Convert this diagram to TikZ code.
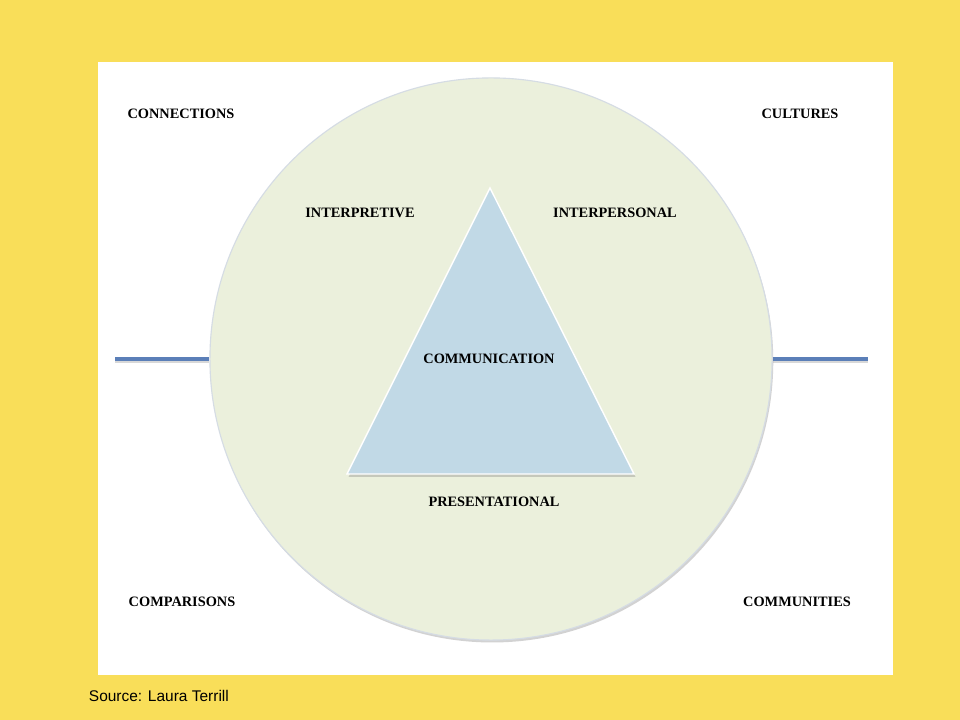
\documentclass[tikz,border=0pt]{standalone}
\usepackage{fontspec}
\setmainfont{Liberation Serif}
\setsansfont{Liberation Sans}
\usepackage{tikz}
\usetikzlibrary{shadows}

\definecolor{slideyellow}{HTML}{F9DE59}
\definecolor{ringgreen}{HTML}{EBF0DC}
\definecolor{ringedge}{HTML}{D5DCE4}
\definecolor{trianglue}{HTML}{C1D9E6}
\definecolor{barblue}{HTML}{5B7FB8}

\begin{document}
\begin{tikzpicture}[x=0.025cm, y=-0.025cm,
        word/.style = {font=\bfseries\fontsize{10.2}{12}\selectfont, text=black},
        bar/.style = {draw=barblue, line width=2.2pt}]
        \useasboundingbox (0,0) rectangle (960,720);
        \fill[slideyellow] (0,0) rectangle (960,720);
        \fill[white] (98,62) rectangle (893,675);

        \node[circle, minimum size=14.05cm, fill=ringgreen, draw=ringedge, line width=0.8pt,
              drop shadow={shadow xshift=0.3mm, shadow yshift=-0.6mm, opacity=0.35}](ring) at (491,359){};

        \coordinate (apex) at (490,188);
        \coordinate (baseL) at (347,474);
        \coordinate (baseR) at (634,474);
        \fill[gray, opacity=0.35] ([shift={(1.5,3)}]apex) -- ([shift={(1.5,3)}]baseR) -- ([shift={(1.5,3)}]baseL) -- cycle;
        \draw[white, line width=1pt, fill=trianglue] (apex) -- (baseR) -- (baseL) -- cycle;

        \coordinate (lstart) at (115,359);
        \coordinate (rend) at (868,359);
        \draw[gray, opacity=0.3, line width=2.2pt] ([yshift=-0.5mm]lstart) -- ([yshift=-0.5mm]ring.west);
        \draw[gray, opacity=0.3, line width=2.2pt] ([yshift=-0.5mm]ring.east) -- ([yshift=-0.5mm]rend);
        \draw[bar] (lstart) -- (ring.west);
        \draw[bar] (ring.east) -- (rend);

        \node[word](connections) at (181,114){CONNECTIONS};
        \node[word](cultures) at (800,114){CULTURES};
        \node[word](interpretive) at (360,213){INTERPRETIVE};
        \node[word](interpersonal) at (615,213){INTERPERSONAL};
        \node[word](communication) at (489,359){COMMUNICATION};
        \node[word](presentational) at (494,502){PRESENTATIONAL};
        \node[word](comparisons) at (182,602){COMPARISONS};
        \node[word](communities) at (797,602){COMMUNITIES};

        \node[anchor=west, font=\sffamily\fontsize{11}{13}\selectfont](source) at (84,696){Source: Laura Terrill};
    \end{tikzpicture}
\end{document}
